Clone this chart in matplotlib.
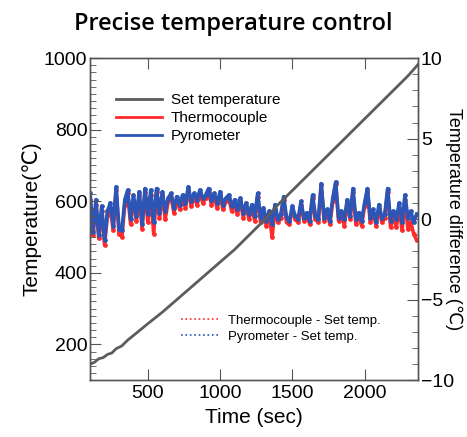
import numpy as np
import matplotlib
matplotlib.use("Agg")
import matplotlib.pyplot as plt
from matplotlib.ticker import MultipleLocator
from matplotlib.lines import Line2D

plt.rcParams['font.family'] = ['Liberation Sans', 'DejaVu Sans']

# set temperature (left axis)
set_time = [100, 130, 160, 190, 220, 250, 280, 320, 360, 400, 500, 600, 700, 800, 900,
            1000, 1100, 1200, 1300, 1400, 1500, 1600, 1700, 1800, 1900, 2000, 2100,
            2200, 2300, 2370]
set_temp = [145, 150, 160, 163, 172, 176, 188, 196, 212, 225, 258, 290, 325, 360, 395,
            430, 465, 505, 545, 590, 630, 670, 710, 750, 790, 830, 870,
            910, 950, 982]

# difference to set temperature (right axis), sampled every 20 s
diff_time = list(range(100, 2361, 20))
pyro_diff = [1.6, -0.8, 1.2, -1.0, 0.8, -1.3, 0.5, 1.0, -0.4, 2.0,
             -0.6, -0.7, 1.2, 1.8, 0.0, 1.5, 0.2, 1.7, -0.3, 1.9,
             0.3, 1.8, -0.2, 1.9, 0.4, 1.7, 0.5, 1.3, 1.6, 0.7,
             1.4, 0.9, 1.5, 1.0, 2.0, 1.1, 1.6, 1.2, 1.8, 1.3,
             1.5, 1.9, 1.2, 1.6, 1.0, 1.7, 0.9, 1.3, 1.5, 0.8,
             1.2, 0.6, 1.3, 0.4, 1.0, 0.3, 0.9, 0.2, 1.6, 0.1,
             0.7, -0.1, 0.5, -0.3, 0.9, 0.0, 0.3, 1.4, 0.1, -0.1,
             0.8, 0.2, 0.0, 1.1, 0.1, 0.4, -0.1, 1.5, 0.2, 0.0,
             2.2, 0.1, 0.6, -0.1, 1.3, 2.3, 0.1, 0.5, 0.0, 1.2,
             0.2, 1.9, 0.0, 0.4, -0.1, 1.0, 1.9, 0.1, 0.6, -0.2,
             0.9, 0.1, 0.3, 1.9, -0.1, 0.5, 0.0, 1.0, -0.2, 1.5,
             0.1, 0.5, -0.2, 0.3]
thermo_diff = [1.2, -1.0, 0.9, -1.2, 0.5, -1.6, 0.2, 0.7, -0.7, 1.8,
               -0.9, -1.1, 0.9, 1.6, -0.3, 1.2, -0.1, 1.5, -0.6, 1.7,
               -0.2, 1.5, -0.9, 1.7, 0.1, 1.5, 0.0, 1.1, 1.4, 0.4,
               1.2, 0.6, 1.3, 0.7, 1.8, 0.8, 1.4, 0.9, 1.6, 1.0,
               1.3, 1.7, 0.9, 1.4, 0.7, 1.5, 0.6, 1.1, 1.3, 0.5,
               1.0, 0.3, 1.1, 0.1, 0.8, 0.0, 0.7, -0.1, 1.4, -0.2,
               0.5, -0.4, 0.3, -1.1, 0.6, -0.2, 0.1, 1.2, -0.2, -0.3,
               0.6, 0.0, -0.2, 0.9, -0.1, 0.2, -0.3, 1.3, 0.0, -0.2,
               2.1, -0.1, 0.4, -0.3, 1.1, 2.2, -0.1, 0.3, -0.4, 1.0,
               0.0, 1.7, -0.3, 0.2, -0.4, 0.8, 1.7, -0.2, 0.4, -0.4,
               0.7, -0.2, 0.1, 1.7, -0.5, 0.2, -0.5, 0.7, -0.7, 1.2,
               -0.6, -0.2, -0.9, -1.3]

fig = plt.figure(figsize=(4.67, 4.37), dpi=100)
ax = fig.add_axes([0.193, 0.130, 0.702, 0.737])
ax2 = ax.twinx()
ax.set_zorder(ax2.get_zorder() + 1)
ax.patch.set_visible(False)

red = '#ff2a2a'
blue = '#2c55b5'
gray = '#5c5c5c'

ax2.plot(diff_time, thermo_diff, color=red, lw=2.6, marker='o', ms=2.4)
ax2.plot(diff_time, pyro_diff, color=blue, lw=2.6, marker='o', ms=2.4)
ax.plot(set_time, set_temp, color=gray, lw=2)

ax.set_xlim(100, 2370)
ax.set_ylim(100, 1000)
ax2.set_ylim(-10, 10)

ax.xaxis.set_major_locator(MultipleLocator(500))
ax.yaxis.set_major_locator(MultipleLocator(200))
ax.yaxis.set_minor_locator(MultipleLocator(20))
ax2.yaxis.set_major_locator(MultipleLocator(5))
ax2.yaxis.set_minor_locator(MultipleLocator(1))

ax.tick_params(axis='x', which='major', direction='in', length=8, top=True, labelsize=14, color='#555555')
ax.tick_params(axis='y', which='major', direction='in', length=8, labelsize=14, color='#555555', pad=2)
ax.tick_params(axis='y', which='minor', direction='in', length=4, color='#555555')
ax2.tick_params(axis='y', which='major', direction='in', length=8, labelsize=14, color='#555555', pad=2)
ax2.tick_params(axis='y', which='minor', direction='in', length=4, color='#555555')
for a in (ax, ax2):
    for s in a.spines.values():
        s.set_color('#555555')
        s.set_linewidth(1)

ax.set_xlabel('Time (sec)', fontsize=15, labelpad=4)
ax.set_ylabel('Temperature(\u2103)', fontsize=15, labelpad=2)
ax2.set_ylabel('Temperature difference (\u2103)', fontsize=13, rotation=270, va='center')
ax2.yaxis.set_label_coords(1.108, 0.5)

fig.text(0.5, 0.945, 'Precise temperature control', ha='center', va='center',
         fontsize=17, fontweight='semibold', family=['Open Sans', 'DejaVu Sans'])

h1 = [Line2D([], [], color=gray, lw=2), Line2D([], [], color=red, lw=2), Line2D([], [], color=blue, lw=2)]
leg1 = ax.legend(h1, ['Set temperature', 'Thermocouple', 'Pyrometer'], loc='upper left',
                 bbox_to_anchor=(0.06, 0.91), frameon=False, fontsize=11, handlelength=3,
                 labelspacing=0.25, handletextpad=0.6, borderaxespad=0)
ax.add_artist(leg1)
h2 = [Line2D([], [], color=red, lw=1.2, ls=':'), Line2D([], [], color=blue, lw=1.2, ls=':')]
ax.legend(h2, ['Thermocouple - Set temp.', 'Pyrometer - Set temp.'], loc='lower left',
          bbox_to_anchor=(0.26, 0.1), frameon=False, fontsize=9.5, handlelength=3,
          labelspacing=0.3, handletextpad=0.6, borderaxespad=0)

fig.savefig('out.png', dpi=100)
